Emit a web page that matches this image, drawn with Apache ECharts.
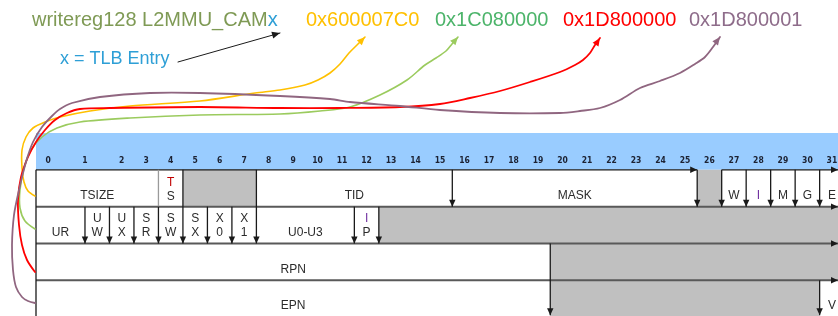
<!DOCTYPE html>
<html>
<head>
<meta charset="utf-8">
<script src="https://cdn.jsdelivr.net/npm/echarts@6/dist/echarts.min.js"></script>
<style>
html,body{margin:0;padding:0;background:#ffffff;}
#c{width:838px;height:316px;}
</style>
</head>
<body>
<div id="c"></div>
<script>
// ---------------- data ----------------
// header bit numbers and the column (x value) at which each is printed
const bitLabels = ['0','1','2','3','4','5','6','7','8','9','10','11','12','13','14','15',
  '16','17','18','19','20','21','22','23','24','25','26','27','28','29','30','31'];
const bitColumns = [0.5, 2, 3.5, 4.5, 5.5, 6.5, 7.5, 8.5, 9.5, 10.5, 11.5, 12.5, 13.5, 14.5, 15.5, 16.5,
  17.5, 18.5, 19.5, 20.5, 21.5, 22.5, 23.5, 24.5, 25.5, 26.5, 27.5, 28.5, 29.5, 30.5, 31.5, 32.5];

// word 1 .. word 4 fields (name, column boundaries, reserved flag)
const word1Fields   = ['TSIZE', '{r|T}\n{d|S}', '', 'TID', 'MASK', '', 'W', '{p|I}', 'M', 'G', 'E'];
const word1Bounds   = [0, 5, 6, 9, 17, 27, 28, 29, 30, 31, 32, 33];
const word1Reserved = [0, 0, 1, 0, 0, 1, 0, 0, 0, 0, 0];

const word2Fields   = ['UR', 'U\nW', 'U\nX', 'S\nR', 'S\nW', 'S\nX', 'X\n0', 'X\n1', 'U0-U3', '{p|I}\n{d|P}', ''];
const word2Bounds   = [0, 2, 3, 4, 5, 6, 7, 8, 9, 13, 14, 33];
const word2Reserved = [0, 0, 0, 0, 0, 0, 0, 0, 0, 0, 1];

const word3Fields   = ['RPN', ''];
const word3Bounds   = [0, 21, 33];
const word3Reserved = [0, 1];

const word4Fields   = ['EPN', '', 'V'];
const word4Bounds   = [0, 21, 32, 33];
const word4Reserved = [0, 1, 0];

// arrowed field dividers: column, from row, to row
const dividerColumns = [6, 9, 17, 27, 28, 29, 30, 31, 32, 2, 3, 4, 5, 7, 8, 13, 14, 21, 32];
const dividerFrom    = [1, 1, 1, 1, 1, 1, 1, 1, 1, 2, 2, 2, 2, 2, 2, 2, 2, 3, 4];
const dividerTo      = [3, 3, 2, 2, 2, 2, 2, 2, 2, 3, 3, 3, 3, 3, 3, 3, 3, 4.95, 4.95];

// title parts
const titleMain = 'writereg128 L2MMU_CAM';
const titleVar = 'x';
const hexValues = ['0x600007C0', '0x1C080000', '0x1D800000', '0x1D800001'];
const noteText = 'x = TLB Entry';

// hand-drawn connector curves (page coordinates), first point = arrow tip
const yellowCurve = [[365,37],[357,45],[349,53],[340,64],[330,73],[318,80],[305,85],[280,90],[255,93],[200,101],[130,106],[90,111],[60,117],[45,122],[33,128],[26,137],[22,150],[22,168],[24,182],[28,191],[35,196]];
const greenCurve = [[458,37],[452,44],[446,51],[436,58],[425,65],[407,80],[380,95],[350,107],[320,111],[280,114],[200,115],[130,118],[80,122],[57,128],[42,137],[31,150],[24,168],[20,190],[20,208],[25,221],[35,229]];
const redCurve = [[600,38],[595,45],[590,53],[583,60],[575,65],[560,72],[530,82],[500,91],[470,98],[440,104],[400,107],[340,108],[280,108],[200,107],[110,108],[80,109],[67,113],[55,120],[45,130],[36,142],[28,157],[21,177],[18,200],[19,225],[22,245],[27,260],[35,272]];
const mauveCurve = [[720,37],[713,47],[705,57],[695,64],[680,73],[660,81],[640,88],[620,100],[600,108],[580,111],[560,113],[500,113],[440,110],[400,106],[350,102],[330,99],[280,96],[200,93],[150,93],[100,97],[72,103],[60,109],[52,116],[42,127],[33,142],[26,162],[19,190],[14,215],[12,245],[13,270],[16,287],[22,297],[28,301],[35,303]];
const noteArrow = [[280,33],[178,62]];

// ---------------- styles ----------------
const C = {
  band: '#99CCFF', reserved: '#C0C0C0', cell: '#FFFFFF',
  text: '#2b2b2b', red: '#C00000', purple: '#7030A0',
  rule: '#595959', line: '#1a1a1a'
};
const curveColors = ['#FFC000', '#9BCB5E', '#FF0000', '#906680', '#1a1a1a'];
const curveWidths = [1.6, 1.6, 1.8, 1.8, 1];
const hexColors = ['#FFC000', '#4CB46A', '#FF0000', '#8E6C8A'];
const hexX = [306, 435, 563, 689];

// ---------------- build ----------------
const cellData = [], cellNames = [];
[[word1Fields, word1Bounds, word1Reserved],
 [word2Fields, word2Bounds, word2Reserved],
 [word3Fields, word3Bounds, word3Reserved],
 [word4Fields, word4Bounds, word4Reserved]].forEach(function (w, wi) {
  w[0].forEach(function (name, i) {
    cellData.push([w[1][i], w[1][i + 1], wi + 1, w[2][i]]);
    cellNames.push(name);
  });
});
cellData.unshift([0, 33, 0, 2]); cellNames.unshift('');

const ruleData = [
  [0, 1, 27, 1, 1], [28, 1, 32.75, 1, 1],
  [0, 2, 32.75, 2, 2], [0, 3, 32.75, 3, 2], [0, 4, 32.75, 4, 2],
  [0, 1, 0, 4.97, 0], [5, 1, 5, 2, 3]
];
dividerColumns.forEach(function (c, i) {
  ruleData.push([c, dividerFrom[i], c, dividerTo[i], 1]);
});

const bitData = bitColumns.map(function (c) { return [c, 0.75]; });

const curves = [yellowCurve, greenCurve, redCurve, mauveCurve, noteArrow];

function arrowHead(tip, from, len, half, color) {
  const dx = tip[0] - from[0], dy = tip[1] - from[1];
  const d = Math.sqrt(dx * dx + dy * dy) || 1;
  const ux = dx / d, uy = dy / d;
  const bx = tip[0] - ux * len, by = tip[1] - uy * len;
  return {
    type: 'polygon',
    shape: { points: [[tip[0], tip[1]], [bx - uy * half, by + ux * half], [bx + uy * half, by - ux * half]] },
    style: { fill: color }
  };
}

const chart = echarts.init(document.getElementById('c'));
const labelFont = '12px "Liberation Sans", Arial, sans-serif';

chart.setOption({
  animation: false,
  grid: [
    { left: 36, right: 0, top: 133, bottom: 0 },
    { left: 0, right: 0, top: 0, bottom: 0 }
  ],
  xAxis: [
    { gridIndex: 0, type: 'value', min: 0, max: 32.75, show: false },
    { gridIndex: 1, type: 'value', min: 0, max: 838, show: false }
  ],
  yAxis: [
    { gridIndex: 0, type: 'value', min: 0, max: 4.97, inverse: true, show: false },
    { gridIndex: 1, type: 'value', min: 0, max: 316, inverse: true, show: false }
  ],
  series: [
    {
      type: 'custom', xAxisIndex: 0, yAxisIndex: 0, z: 1,
      data: cellData, encode: { x: [0, 1], y: 2 }, silent: true,
      renderItem: function (params, api) {
        const x0 = api.value(0), x1 = api.value(1), r = api.value(2), k = api.value(3);
        const p0 = api.coord([x0, r]), p1 = api.coord([x1, r + 1]);
        const children = [{
          type: 'rect',
          shape: { x: p0[0], y: p0[1], width: p1[0] - p0[0], height: p1[1] - p0[1] },
          style: { fill: k === 2 ? C.band : (k === 1 ? C.reserved : C.cell) }
        }];
        const name = cellNames[params.dataIndex];
        if (name) {
          const stacked = name.indexOf('\n') >= 0;
          const c = api.coord([(x0 + x1) / 2, r + (stacked ? 0.53 : 0.7)]);
          children.push({
            type: 'text', x: c[0], y: c[1], z2: 5,
            style: {
              text: name, font: labelFont, fill: C.text, align: 'center', verticalAlign: 'middle',
              lineHeight: 14,
              rich: {
                r: { fill: C.red, font: labelFont, lineHeight: 14 },
                p: { fill: C.purple, font: labelFont, lineHeight: 14 },
                d: { fill: C.text, font: labelFont, lineHeight: 14 }
              }
            }
          });
        }
        return { type: 'group', children: children };
      }
    },
    {
      type: 'custom', xAxisIndex: 0, yAxisIndex: 0, z: 3,
      data: ruleData, encode: { x: [0, 2], y: [1, 3] }, silent: true,
      renderItem: function (params, api) {
        const p0 = api.coord([api.value(0), api.value(1)]);
        const p1 = api.coord([api.value(2), api.value(3)]);
        const k = api.value(4);
        const color = (k === 2) ? C.rule : (k === 3 ? '#9a9a9a' : C.line);
        const w = (k === 2) ? 2 : 1.3;
        const children = [{
          type: 'line', shape: { x1: p0[0], y1: p0[1], x2: p1[0], y2: p1[1] },
          style: { stroke: color, lineWidth: w }
        }];
        if (k === 1 || k === 2) children.push(arrowHead(p1, p0, 7, 3.2, k === 2 ? '#1a1a1a' : C.line));
        return { type: 'group', children: children };
      }
    },
    {
      type: 'custom', xAxisIndex: 0, yAxisIndex: 0, z: 4,
      data: bitData, silent: true,
      renderItem: function (params, api) {
        const c = api.coord([api.value(0), api.value(1)]);
        return {
          type: 'text', x: c[0], y: c[1],
          style: {
            text: bitLabels[params.dataIndex],
            font: 'bold 8.5px "Liberation Sans Narrow", "DejaVu Sans Condensed", sans-serif',
            fill: '#1c2233', align: 'center', verticalAlign: 'middle'
          }
        };
      }
    },
    {
      type: 'custom', xAxisIndex: 1, yAxisIndex: 1, z: 6,
      data: curves.map(function (c, i) { return [i, i]; }), silent: true,
      renderItem: function (params, api) {
        const pts = curves[params.dataIndex].map(function (p) { return api.coord(p); });
        const color = curveColors[params.dataIndex];
        const isNote = params.dataIndex === 4;
        return {
          type: 'group',
          children: [
            {
              type: 'polyline', shape: { points: pts, smooth: isNote ? 0 : 0.3 },
              style: { stroke: color, lineWidth: curveWidths[params.dataIndex], fill: null, lineJoin: 'round', lineCap: 'round' }
            },
            arrowHead(pts[0], isNote ? pts[1] : pts[2], 8, 3.5, color)
          ]
        };
      }
    }
  ],
  graphic: [
    {
      type: 'text', x: 32, y: 20, z: 10,
      style: {
        text: '{a|' + titleMain + '}{b|' + titleVar + '}',
        verticalAlign: 'middle',
        rich: {
          a: { fill: '#7F9A55', font: '20px "Liberation Sans", Arial, sans-serif' },
          b: { fill: '#2E9FD6', font: '20px "Liberation Sans", Arial, sans-serif' }
        }
      }
    }
  ].concat(hexValues.map(function (h, i) {
    return {
      type: 'text', x: hexX[i], y: 20, z: 10,
      style: { text: h, fill: hexColors[i], font: '20px "Liberation Sans", Arial, sans-serif', verticalAlign: 'middle' }
    };
  })).concat([{
    type: 'text', x: 60, y: 59, z: 10,
    style: { text: noteText, fill: '#2E9FD6', font: '18px "Liberation Sans", Arial, sans-serif', verticalAlign: 'middle' }
  }])
});
</script>
</body>
</html>
